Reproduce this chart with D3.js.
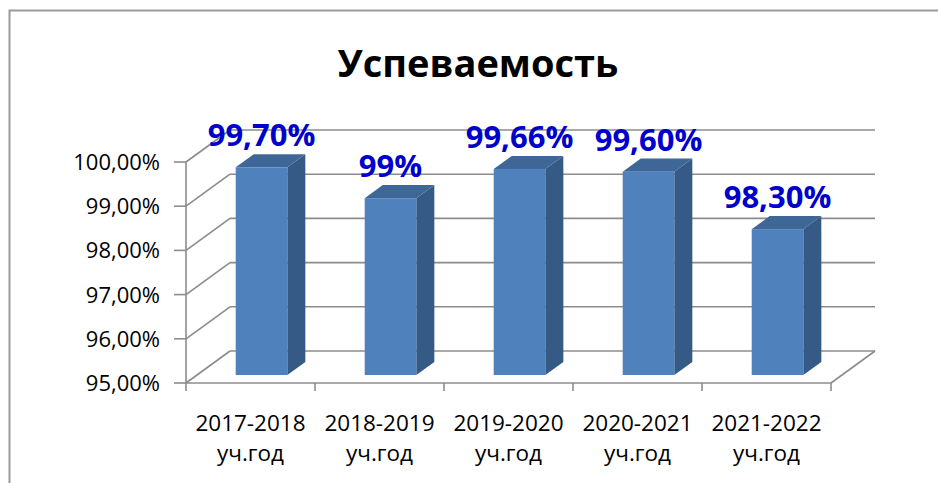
<!DOCTYPE html>
<html>
<head>
<meta charset="utf-8">
<script src="https://cdn.jsdelivr.net/npm/d3@7"></script>
<style>
  body { margin: 0; background: white; }
  svg text { font-family: "Open Sans", "DejaVu Sans", sans-serif; }
</style>
</head>
<body>
<div id="chart"></div>
<script>
// chart data
let years = ["2017-2018", "2018-2019", "2019-2020", "2020-2021", "2021-2022"];
let yearSuffix = ["уч.год", "уч.год", "уч.год", "уч.год", "уч.год"];
let values = [99.70, 99.00, 99.66, 99.60, 98.30];
let valueLabels = ["99,70%", "99%", "99,66%", "99,60%", "98,30%"];
let yTicks = [95, 96, 97, 98, 99, 100];
let title = "Успеваемость";

let config = {
  width: 938,
  height: 483,
  gridColor: "#8c8c8c",
  frontColor: "#4f81bd",
  sideColor: "#355a85",
  topColor: "#3e6797",
  labelColor: "#0000cc",
  depthX: 44,   // oblique offset of the back wall
  depthY: 32,
  z1: 0.25,     // bar depth start / end (0 = front, 1 = back)
  z2: 0.66,
  container: d3.select("#chart").append("svg")
};

config.container
  .attr("width", config.width)
  .attr("height", config.height);

let svg = config.container;

let x = d3.scaleBand()
  .domain(years)
  .range([186, 831])
  .paddingInner(0.6)
  .paddingOuter(0.3);

let y = d3.scaleLinear()
  .domain([95, 100])
  .range([383, 162]);

// outer frame
svg.append("rect")
  .attr("x", 9.5)
  .attr("y", 10.5)
  .attr("width", 1000)
  .attr("height", 1000)
  .attr("fill", "none")
  .attr("stroke", "#9a9a9a")
  .attr("stroke-width", 2);

// title
svg.append("text")
  .attr("x", 478)
  .attr("y", 77)
  .attr("text-anchor", "middle")
  .attr("font-size", 38)
  .attr("font-weight", "bold")
  .attr("fill", "#000")
  .text(title);

let x0 = x.range()[0], x1 = x.range()[1];
let dx = config.depthX, dy = config.depthY;

// back wall gridlines
svg.selectAll(".grid")
  .data(yTicks)
  .enter()
  .append("line")
  .attr("x1", x0 + dx)
  .attr("x2", x1 + dx)
  .attr("y1", d => y(d) - dy)
  .attr("y2", d => y(d) - dy)
  .attr("stroke", config.gridColor)
  .attr("stroke-width", 1.6);

// left wall diagonals
svg.selectAll(".wall")
  .data(yTicks)
  .enter()
  .append("line")
  .attr("x1", x0)
  .attr("x2", x0 + dx)
  .attr("y1", d => y(d))
  .attr("y2", d => y(d) - dy)
  .attr("stroke", config.gridColor)
  .attr("stroke-width", 1.6);

// front value axis
svg.append("line")
  .attr("x1", x0).attr("x2", x0)
  .attr("y1", y(100)).attr("y2", y(95))
  .attr("stroke", config.gridColor)
  .attr("stroke-width", 1.6);

svg.selectAll(".ytick")
  .data(yTicks)
  .enter()
  .append("line")
  .attr("x1", x0 - 12).attr("x2", x0)
  .attr("y1", d => y(d)).attr("y2", d => y(d))
  .attr("stroke", config.gridColor)
  .attr("stroke-width", 1.6);

svg.selectAll(".ylabel")
  .data(yTicks)
  .enter()
  .append("text")
  .attr("x", 160)
  .attr("y", d => y(d) + 8)
  .attr("text-anchor", "end")
  .attr("font-size", 22)
  .attr("fill", "#000")
  .text(d => d3.format(".2f")(d).replace(".", ",") + "%");

// floor
svg.append("line")
  .attr("x1", x0).attr("x2", x1)
  .attr("y1", y(95)).attr("y2", y(95))
  .attr("stroke", config.gridColor)
  .attr("stroke-width", 1.6);

svg.append("line")
  .attr("x1", x1).attr("x2", x1 + dx)
  .attr("y1", y(95)).attr("y2", y(95) - dy)
  .attr("stroke", config.gridColor)
  .attr("stroke-width", 1.6);

// category ticks on the front floor edge
let step = x.step();
svg.selectAll(".xtick")
  .data(d3.range(years.length + 1))
  .enter()
  .append("line")
  .attr("x1", i => x0 + i * step).attr("x2", i => x0 + i * step)
  .attr("y1", y(95)).attr("y2", y(95) + 8)
  .attr("stroke", config.gridColor)
  .attr("stroke-width", 1.6);

let xLabels = svg.selectAll(".xlabel")
  .data(years)
  .enter()
  .append("text")
  .attr("text-anchor", "middle")
  .attr("font-size", 22.5)
  .attr("fill", "#000");

xLabels.append("tspan")
  .attr("x", d => x(d) + x.bandwidth() / 2)
  .attr("y", 431)
  .text(d => d);

xLabels.append("tspan")
  .attr("x", d => x(d) + x.bandwidth() / 2)
  .attr("y", 461)
  .text((d, i) => yearSuffix[i]);

// 3D bars
let shiftX = config.z1 * dx, shiftY = config.z1 * dy;
let ddx = (config.z2 - config.z1) * dx, ddy = (config.z2 - config.z1) * dy;
let w = x.bandwidth();

let bars = svg.selectAll(".bar")
  .data(values)
  .enter()
  .append("g")
  .each(function (v, i) {
    let g = d3.select(this);
    let left = x(years[i]) + shiftX;
    let top = y(v) - shiftY;
    let bottom = y(95) - shiftY;
    g.append("polygon")
      .attr("points", [[left + w, top], [left + w + ddx, top - ddy],
        [left + w + ddx, bottom - ddy], [left + w, bottom]].join(" "))
      .attr("fill", config.sideColor);
    g.append("polygon")
      .attr("points", [[left, top], [left + ddx, top - ddy],
        [left + w + ddx, top - ddy], [left + w, top]].join(" "))
      .attr("fill", config.topColor);
    g.append("rect")
      .attr("x", left)
      .attr("y", top)
      .attr("width", w)
      .attr("height", bottom - top)
      .attr("fill", config.frontColor);
  });

// value labels
svg.selectAll(".vlabel")
  .data(values)
  .enter()
  .append("text")
  .attr("x", (d, i) => x(years[i]) + shiftX + w / 2)
  .attr("y", d => y(d) - shiftY - ddy - 8)
  .attr("text-anchor", "middle")
  .attr("font-size", 31)
  .attr("font-weight", "bold")
  .attr("fill", config.labelColor)
  .text((d, i) => valueLabels[i]);
</script>
</body>
</html>
